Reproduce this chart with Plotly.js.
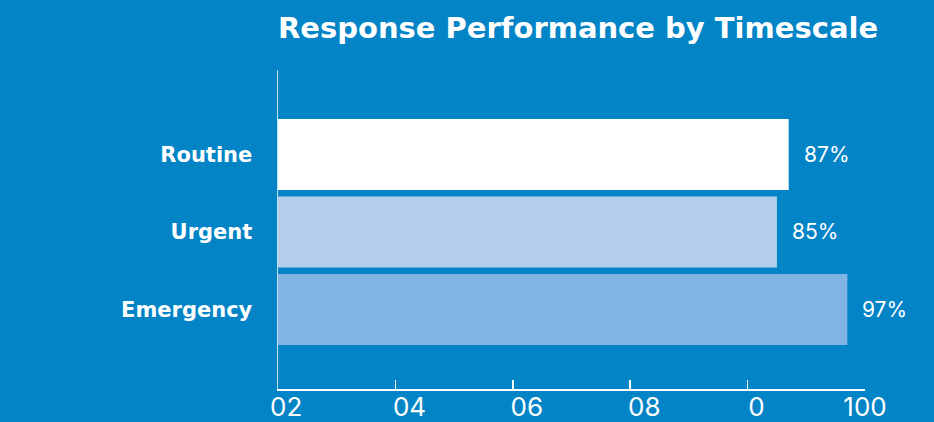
<!DOCTYPE html>
<html>
<head>
<meta charset="utf-8">
<script src="https://cdn.plot.ly/plotly-3.0.1.min.js"></script>
<style>
  html, body { margin: 0; padding: 0; background: #0284C7; }
  #chart { width: 934px; height: 422px; }
</style>
</head>
<body>
<div id="chart"></div>
<script>
// Response performance per timescale (percent within target)
const categories = ['Routine', 'Urgent', 'Emergency'];
const performance = [87, 85, 97];
const barColors = ['#FFFFFF', '#B3CFEC', '#80B4E2'];

// Axis ticks and the labels printed under them
const tickValues = [0, 20, 40, 60, 80, 100];
const tickLabels = ['02', '04', '06', '08', '0', '100'];

const BG = '#0284C7';

const bars = {
  type: 'bar',
  orientation: 'h',
  y: categories,
  x: performance,
  marker: { color: barColors, line: { width: 0 } },
  hoverinfo: 'skip'
};

// Carrier trace so the label axis is laid out
const labelCarrier = {
  type: 'scatter',
  mode: 'none',
  x: [0, 100],
  y: [categories[1], categories[1]],
  xaxis: 'x2',
  hoverinfo: 'skip',
  showlegend: false
};

const valueNotes = categories.map((c, i) => ({
  x: performance[i],
  y: c,
  xref: 'x',
  yref: 'y',
  text: performance[i] + '%',
  showarrow: false,
  xanchor: 'left',
  yanchor: 'middle',
  xshift: 13,
  font: { family: 'Inter, sans-serif', size: 21, color: '#FFFFFF' }
}));

const layout = {
  width: 934,
  height: 422,
  paper_bgcolor: BG,
  plot_bgcolor: BG,
  margin: { l: 278, r: 69, t: 70, b: 33 },
  showlegend: false,
  bargap: 0.085,
  title: {
    text: '<b>Response Performance by Timescale</b>',
    x: 0,
    xref: 'paper',
    xanchor: 'left',
    y: 0.957,
    yref: 'container',
    yanchor: 'top',
    font: { family: '"DejaVu Sans", sans-serif', size: 29, color: '#FFFFFF' }
  },
  xaxis: {
    range: [0, 100],
    tickvals: tickValues,
    showticklabels: false,
    ticks: 'inside',
    ticklen: 9,
    tickwidth: 1.5,
    tickcolor: '#FFFFFF',
    showline: true,
    linecolor: '#FFFFFF',
    linewidth: 1.5,
    showgrid: false,
    zeroline: false,
    fixedrange: true
  },
  xaxis2: {
    overlaying: 'x',
    side: 'bottom',
    anchor: 'y',
    range: [0, 100],
    tickmode: 'array',
    tickvals: [1.4, 22.4, 42.4, 62.4, 81.5, 100],
    ticktext: tickLabels,
    ticks: '',
    showline: false,
    showgrid: false,
    zeroline: false,
    tickfont: { family: 'Inter, sans-serif', size: 26, color: '#FFFFFF' },
    fixedrange: true
  },
  yaxis: {
    type: 'category',
    categoryorder: 'array',
    categoryarray: categories.slice().reverse(),
    range: [-1.026, 3.09],
    showline: true,
    linecolor: 'rgba(255,255,255,0.75)',
    linewidth: 1.5,
    ticks: '',
    ticklabelstandoff: 20,
    showgrid: false,
    zeroline: false,
    tickfont: { family: '"DejaVu Sans", sans-serif', size: 21, color: '#FFFFFF', weight: 'bold' },
    fixedrange: true
  },
  annotations: valueNotes
};

Plotly.newPlot('chart', [bars, labelCarrier], layout, { displayModeBar: false, staticPlot: true });
</script>
</body>
</html>
